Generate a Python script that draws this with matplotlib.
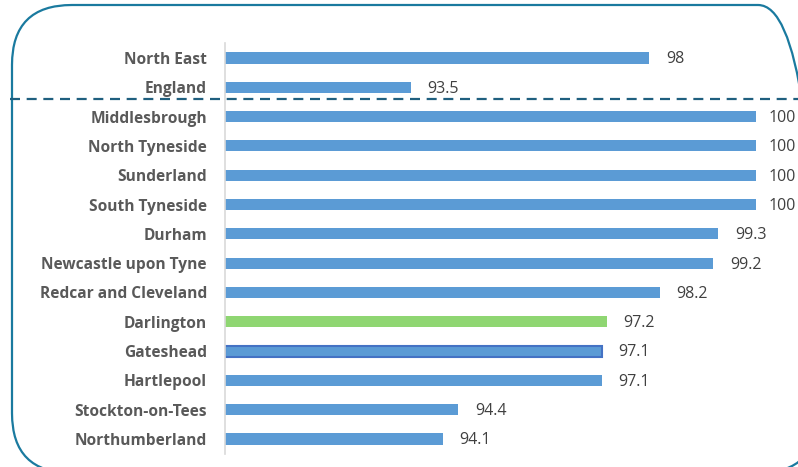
import numpy as np
import matplotlib
matplotlib.use("Agg")
import matplotlib.pyplot as plt
from matplotlib.patches import FancyBboxPatch
from matplotlib.lines import Line2D

# =========================
# Datos
# =========================
areas = ["North East", "England", "Middlesbrough", "North Tyneside", "Sunderland",
         "South Tyneside", "Durham", "Newcastle upon Tyne", "Redcar and Cleveland",
         "Darlington", "Gateshead", "Hartlepool", "Stockton-on-Tees", "Northumberland"]
valores = [98, 93.5, 100, 100, 100, 100, 99.3, 99.2, 98.2, 97.2, 97.1, 97.1, 94.4, 94.1]
etiquetas = ["98", "93.5", "100", "100", "100", "100", "99.3", "99.2", "98.2",
             "97.2", "97.1", "97.1", "94.4", "94.1"]

AZUL = "#5b9bd5"
VERDE = "#8fd672"
BORDE = "#4472c4"

plt.rcParams["font.family"] = ["Open Sans", "DejaVu Sans"]

W, H = 798, 467
fig = plt.figure(figsize=(W / 100, H / 100), dpi=100)

# Marco redondeado
marco = FancyBboxPatch((12 / W, -6 / H), (W + 20 - 12) / W, (H + 4 - 3) / H,
                       boxstyle="round,pad=0,rounding_size=0.075",
                       transform=fig.transFigure, fill=False,
                       edgecolor="#1a7a9f", linewidth=1.6, mutation_aspect=W / H)
fig.patches.append(marco)

n = len(areas)
y = np.arange(n)
ax = fig.add_axes([225 / W, (H - 453.7) / H, (W - 225) / W, (453.7 - 43.3) / H])

colores = [AZUL] * n
colores[areas.index("Darlington")] = VERDE
bordes = [AZUL] * n
bordes[areas.index("Gateshead")] = BORDE
anchos = [0] * n
anchos[areas.index("Gateshead")] = 1.5

ax.barh(y, [v - 90 for v in valores], left=90, height=0.38,
        color=colores, edgecolor=bordes, linewidth=anchos)

# etiquetas de valor (las de 100 quedan más pegadas al borde)
for yi, v, t in zip(y, valores, etiquetas):
    desp = 9 if v >= 100 else 12
    ax.annotate(t, (v, yi), xytext=(desp, -1), textcoords="offset points",
                va="center", ha="left", fontsize=11.5, color="#404040",
                annotation_clip=False)

ax.set_xlim(90, 100.8)
ax.set_ylim(n - 0.5, -0.5)
ax.set_yticks(y)
ax.set_yticklabels(areas, fontsize=11.2, fontweight="bold", color="#595959")
ax.tick_params(axis="y", length=0, pad=13)
ax.set_xticks([])
for s in ["top", "right", "bottom"]:
    ax.spines[s].set_visible(False)
ax.spines["left"].set_color("#d9d9d9")
ax.spines["left"].set_linewidth(1.2)

# linea discontinua entre England y las autoridades locales
fig.add_artist(Line2D([10 / W, 1], [(H - 99) / H] * 2, transform=fig.transFigure,
                      color="#1f5f7f", linewidth=1.6, dashes=(4.5, 3)))

fig.savefig("out.png", dpi=100)
